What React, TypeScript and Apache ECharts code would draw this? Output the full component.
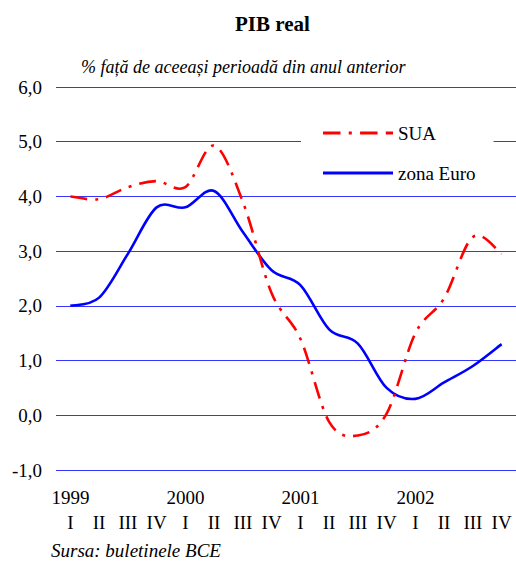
import React, { useEffect, useRef } from "react";
import * as echarts from "echarts";

const quarters = ["I", "II", "III", "IV", "I", "II", "III", "IV", "I", "II", "III", "IV", "I", "II", "III", "IV"];
const years = ["1999", "", "", "", "2000", "", "", "", "2001", "", "", "", "2002", "", "", ""];
const sua = [4.0, 3.95, 4.17, 4.28, 4.17, 4.93, 3.9, 2.23, 1.4, -0.12, -0.37, 0.03, 1.5, 2.14, 3.26, 2.95];
const zonaEuro = [2.0, 2.15, 2.95, 3.8, 3.8, 4.1, 3.35, 2.65, 2.38, 1.57, 1.31, 0.5, 0.3, 0.6, 0.9, 1.3];
const yTicks = { min: -1, max: 6, interval: 1 };

const FONT = "Liberation Serif";

function smoothPath(pts: number[][]): string {
  let d = `M${pts[0][0]},${pts[0][1]}`;
  for (let i = 0; i < pts.length - 1; i++) {
    const p0 = pts[i - 1] || pts[i];
    const p1 = pts[i];
    const p2 = pts[i + 1];
    const p3 = pts[i + 2] || p2;
    const c1x = p1[0] + (p2[0] - p0[0]) / 6;
    const c1y = p1[1] + (p2[1] - p0[1]) / 6;
    const c2x = p2[0] - (p3[0] - p1[0]) / 6;
    const c2y = p2[1] - (p3[1] - p1[1]) / 6;
    d += ` C${c1x},${c1y} ${c2x},${c2y} ${p2[0]},${p2[1]}`;
  }
  return d;
}

function makeRender(values: number[], color: string, dash: number[] | null) {
  return (params: any, api: any) => {
    if (params.dataIndex !== 0) return null;
    const pts = values.map((v, i) => api.coord([i, v]));
    return {
      type: "path",
      shape: { pathData: smoothPath(pts) },
      style: {
        stroke: color,
        lineWidth: 2.6,
        fill: "none",
        lineDash: dash || undefined,
      },
    };
  };
}

const dashIcon = "path://M0,0h17v3h-17z M25,0h3v3h-3z M36,0h17v3h-17z M61,0h7v3h-7z";

export default function App() {
  const ref = useRef<HTMLDivElement>(null);
  useEffect(() => {
    if (!ref.current) return;
    const chart = echarts.init(ref.current, undefined, { renderer: "svg" });
    chart.setOption({
      animation: false,
      backgroundColor: "#fff",
      textStyle: { fontFamily: FONT },
      title: [
        {
          text: "PIB real",
          left: 230,
          top: 8,
          textStyle: { fontFamily: FONT, fontWeight: "bold", fontSize: 21, color: "#000" },
        },
        {
          text: "% față de aceeași perioadă din anul anterior",
          left: 81,
          top: 58,
          padding: 0,
          textStyle: { fontFamily: FONT, fontStyle: "italic", fontWeight: "normal", fontSize: 18, color: "#000" },
        },
        {
          text: "Sursa: buletinele BCE",
          left: 51,
          top: 541,
          padding: 0,
          textStyle: { fontFamily: FONT, fontStyle: "italic", fontWeight: "normal", fontSize: 19, color: "#000" },
        },
      ],
      legend: {
        data: [
          { name: "SUA", icon: dashIcon, itemStyle: { color: "#ff0000" } },
          { name: "zona Euro", icon: "rect", itemStyle: { color: "#0000ff" } },
        ],
        orient: "vertical",
        left: 301,
        top: 112,
        padding: [10, 18, 10, 22],
        backgroundColor: "#fff",
        itemWidth: 70,
        itemHeight: 3,
        symbolKeepAspect: false,
        itemGap: 18,
        textStyle: { fontFamily: FONT, fontSize: 19, color: "#000", lineHeight: 22 },
      },
      grid: { left: 56, right: -4, top: 87, bottom: 93, containLabel: false },
      xAxis: [
        {
          type: "category",
          data: quarters,
          position: "bottom",
          boundaryGap: true,
          axisLine: { show: false },
          axisTick: { show: false },
          axisLabel: { interval: 0, margin: 43, fontFamily: FONT, fontSize: 19, color: "#000" },
        },
        {
          type: "category",
          data: years,
          position: "bottom",
          boundaryGap: true,
          axisLine: { show: false },
          axisTick: { show: false },
          axisLabel: { interval: 0, margin: 18, fontFamily: FONT, fontSize: 19, color: "#000" },
        },
      ],
      yAxis: {
        type: "value",
        min: yTicks.min,
        max: yTicks.max,
        interval: yTicks.interval,
        axisLine: { show: false },
        axisTick: { show: false },
        axisLabel: {
          margin: 14,
          fontFamily: FONT,
          fontSize: 19,
          color: "#000",
          formatter: (v: number) => v.toFixed(1).replace(".", ","),
        },
        splitLine: { lineStyle: { color: "#3535ff", width: 1.2 } },
      },
      series: [
        {
          name: "SUA",
          type: "custom",
          data: sua.map((v, i) => [i, v]),
          encode: { x: 0, y: 1 },
          renderItem: makeRender(sua, "#ff0000", [17, 8, 3, 8]),
          itemStyle: { color: "#ff0000" },
          z: 3,
        },
        {
          name: "zona Euro",
          type: "custom",
          data: zonaEuro.map((v, i) => [i, v]),
          encode: { x: 0, y: 1 },
          renderItem: makeRender(zonaEuro, "#0000ff", null),
          itemStyle: { color: "#0000ff" },
          z: 2,
        },
      ],
    });
    return () => chart.dispose();
  }, []);
  return (
    <div
      ref={ref}
      style={{ position: "fixed", left: 0, top: 0, width: 516, height: 563 }}
    />
  );
}
